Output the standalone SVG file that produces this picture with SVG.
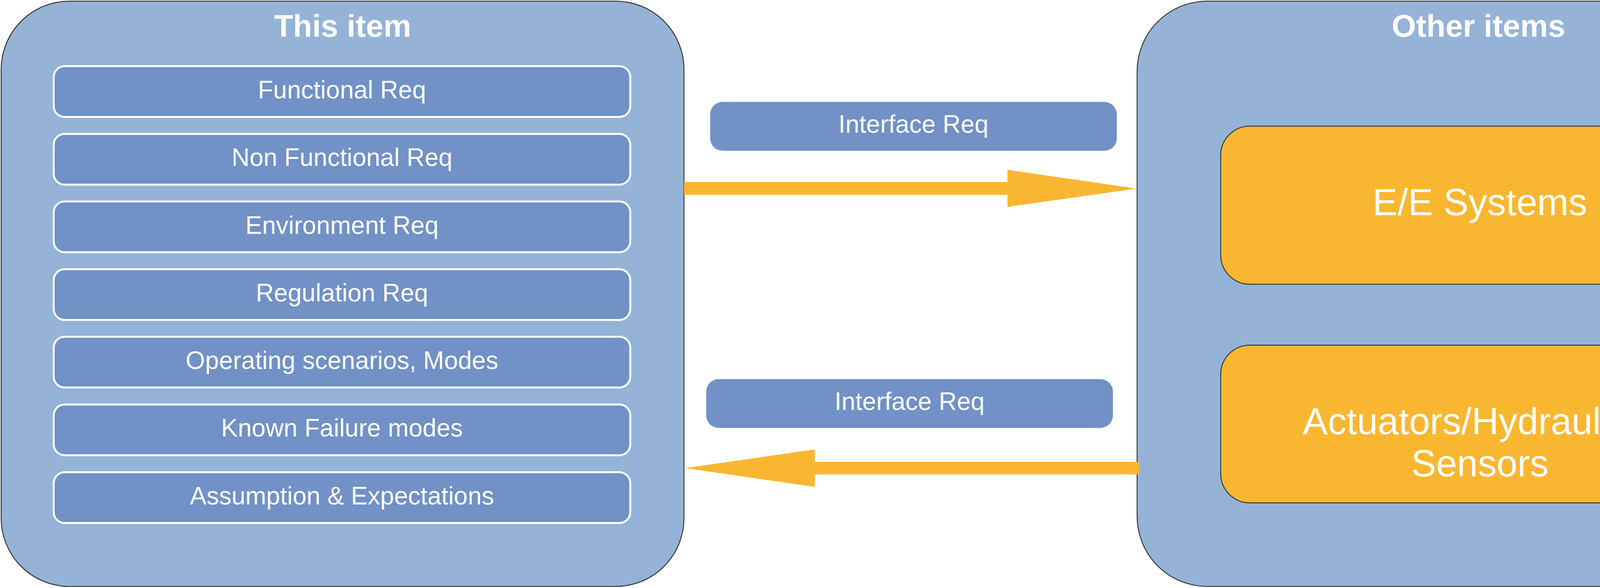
<svg xmlns="http://www.w3.org/2000/svg" width="4663" height="1506" viewBox="0 0 4663 1506">
<style>
.container{fill:#95B3D7;stroke:#3A3A3A;stroke-width:2.5}
.item{fill:#7191C7;stroke:#FFFFFF;stroke-width:5}
.iface{fill:#7191C7}
.sys{fill:#F9B731;stroke:#3A3A3A;stroke-width:2.5}
.arrow{fill:#F9B731}
text{font-family:"Liberation Sans",Arial,sans-serif;fill:#FFFFFF;text-anchor:middle}
.title{font-size:80px;font-weight:bold}
.lbl{font-size:64px}
.big{font-size:96px}
</style>
<rect width="4663" height="1506" fill="#FFFFFF"/>
<g id="this-item">
<rect class="container" x="3" y="3" width="1748" height="1499" rx="175" ry="175"/>
<text class="title" x="877" y="94">This item</text>
</g>
<g id="functional-req">
<rect class="item" x="137.5" y="169.5" width="1476" height="130" rx="28"/>
<text class="lbl" x="875.5" y="252">Functional Req</text>
</g>
<g id="non-functional-req">
<rect class="item" x="137.5" y="343" width="1476" height="130" rx="28"/>
<text class="lbl" x="875.5" y="425">Non Functional Req</text>
</g>
<g id="environment-req">
<rect class="item" x="137.5" y="516" width="1476" height="130" rx="28"/>
<text class="lbl" x="875.5" y="599">Environment Req</text>
</g>
<g id="regulation-req">
<rect class="item" x="137.5" y="689.5" width="1476" height="130" rx="28"/>
<text class="lbl" x="875.5" y="772">Regulation Req</text>
</g>
<g id="operating-scenarios">
<rect class="item" x="137.5" y="862.5" width="1476" height="130" rx="28"/>
<text class="lbl" x="875.5" y="945">Operating scenarios, Modes</text>
</g>
<g id="known-failure-modes">
<rect class="item" x="137.5" y="1036" width="1476" height="130" rx="28"/>
<text class="lbl" x="875.5" y="1118">Known Failure modes</text>
</g>
<g id="assumption-expectations">
<rect class="item" x="137.5" y="1209.5" width="1476" height="130" rx="28"/>
<text class="lbl" x="875.5" y="1292">Assumption &amp; Expectations</text>
</g>
<g id="other-items">
<rect class="container" x="2911" y="3" width="1748" height="1499" rx="180" ry="180"/>
<text class="title" x="3785" y="94">Other items</text>
</g>
<g id="ee-systems">
<rect class="sys" x="3125" y="323" width="1327" height="405" rx="75" ry="75"/>
<text class="big" x="3788.5" y="551">E/E Systems</text>
</g>
<g id="actuators">
<rect class="sys" x="3125" y="884" width="1327" height="404" rx="75" ry="75"/>
<text class="big" x="3788.5" y="1112">Actuators/Hydraulics/</text>
<text class="big" x="3788.5" y="1220">Sensors</text>
</g>
<g id="interface-req-top">
<rect class="iface" x="1818" y="261" width="1041" height="125" rx="32"/>
<text class="lbl" x="2338.5" y="340">Interface Req</text>
</g>
<g id="interface-req-bottom">
<rect class="iface" x="1808" y="971" width="1041" height="125" rx="32"/>
<text class="lbl" x="2328.5" y="1050">Interface Req</text>
</g>
<g id="connectors">
<polygon class="arrow" points="1751,466 2579,466 2579,435 2909,483 2579,530 2579,499 1751,499"/>
<polygon class="arrow" points="2916,1183 2086,1183 2086,1151 1754,1199 2086,1247 2086,1215 2916,1215"/>
</g>
</svg>
